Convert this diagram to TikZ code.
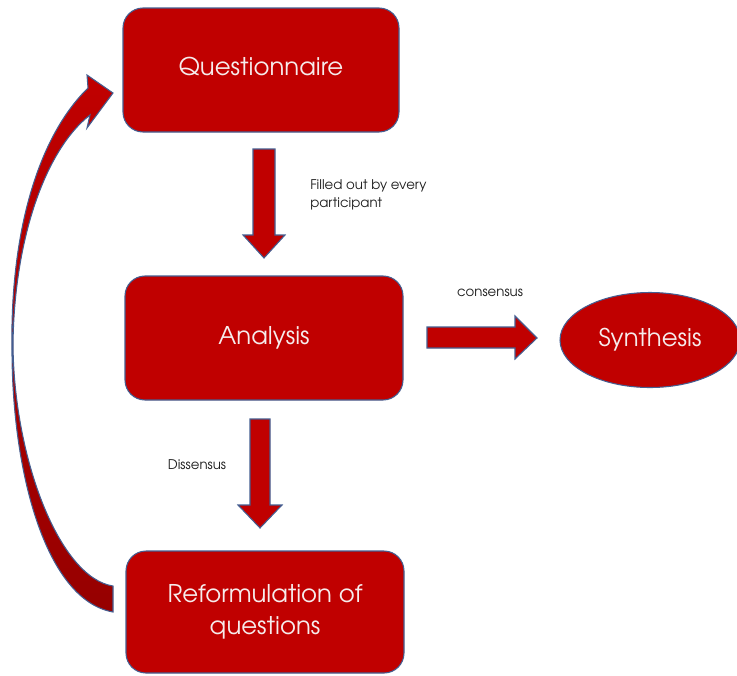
\documentclass[tikz,border=0pt]{standalone}
\usepackage{fontspec}
\setmainfont{TeX Gyre Adventor}
\usetikzlibrary{shapes.geometric}
\definecolor{boxred}{RGB}{192,0,0}
\definecolor{edgeblue}{RGB}{68,94,145}
\definecolor{darkred}{RGB}{150,0,0}
\definecolor{txtwhite}{RGB}{246,236,236}
\definecolor{labelgray}{RGB}{30,30,30}
\begin{document}
\begin{tikzpicture}[x=0.75pt,y=-0.75pt,
  redbox/.style={draw=edgeblue,line width=0.8pt,fill=boxred,rounded corners=15pt,
    text=txtwhite,font=\fontsize{18.3}{24}\selectfont,align=center,inner sep=0pt},
  redoval/.style={ellipse,draw=edgeblue,line width=0.8pt,fill=boxred,
    text=txtwhite,font=\fontsize{18.3}{24}\selectfont,inner sep=0pt},
  blockarrow/.style={draw=edgeblue,line width=0.8pt,fill=boxred},
  smalllabel/.style={text=labelgray,font=\fontsize{10}{14}\selectfont,align=left,inner sep=0pt}]
\useasboundingbox (0,0) rectangle (737,675);
% boxes
\node[redbox,minimum width=276*0.75pt,minimum height=124*0.75pt] (quest) at (261,70) {\raisebox{5pt}{Questionnaire}};
\node[redbox,minimum width=278*0.75pt,minimum height=124*0.75pt] (anal) at (264,338) {\raisebox{4pt}{Analysis}};
\node[redbox,minimum width=278*0.75pt,minimum height=122*0.75pt] (reform) at (265,612) {Reformulation of\\questions};
\node[redoval,minimum width=180*0.75pt,minimum height=95*0.75pt] (synth) at (650,340) {\raisebox{4.5pt}{Synthesis}};
% block arrows
\draw[blockarrow] (253,149) -- (275,149) -- (275,235) -- (285,235) -- (264,258) -- (243,235) -- (253,235) -- cycle;
\draw[blockarrow] (250,419) -- (270,419) -- (270,505) -- (282,505) -- (260,528) -- (238,505) -- (250,505) -- cycle;
\draw[blockarrow] (427,327) -- (515,327) -- (515,316) -- (537,338) -- (515,359) -- (515,348) -- (427,348) -- cycle;
% curved arrow
\shadedraw[top color=boxred,bottom color=darkred,draw=edgeblue,line width=0.8pt]
  (88,88) .. controls (35,140) and (10,240) .. (12,350)
  .. controls (12,470) and (45,600) .. (113,612)
  -- (113,586)
  .. controls (60,578) and (14,460) .. (13,345)
  .. controls (14,240) and (45,150) .. (90,115)
  -- (87,128) -- (113,93) -- (87,75) -- cycle;
% labels
\node[smalllabel,anchor=west] (lfill) at (310,195) {Filled out by every\\participant};
\node[smalllabel] (lcons) at (490,293) {consensus};
\node[smalllabel] (ldiss) at (197,465) {Dissensus};
\end{tikzpicture}
\end{document}
